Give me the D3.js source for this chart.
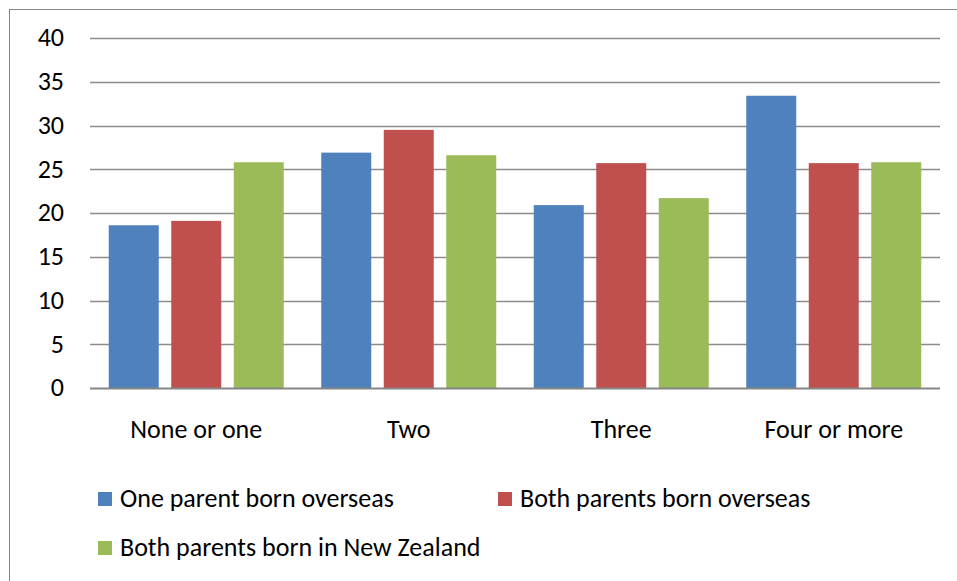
<!DOCTYPE html>
<html>
<head>
<meta charset="utf-8">
<script src="https://cdn.jsdelivr.net/npm/d3@7"></script>
<style>
  body { margin: 0; background: #fff; }
  svg { display: block; font-family: Carlito, Calibri, "Open Sans", sans-serif; }
</style>
</head>
<body>
<svg width="957" height="581"></svg>
<script>
// data
const categories = ['None or one', 'Two', 'Three', 'Four or more'];
const seriesNames = ['One parent born overseas', 'Both parents born overseas', 'Both parents born in New Zealand'];
const oneParent = [18.6, 26.9, 20.9, 33.4];
const bothOverseas = [19.1, 29.5, 25.7, 25.7];
const bothNZ = [25.8, 26.6, 21.7, 25.8];
const colors = ['#4f81bd', '#c0504d', '#9bbb59'];
const yTicks = [0, 5, 10, 15, 20, 25, 30, 35, 40];

const seriesValues = [oneParent, bothOverseas, bothNZ];

const svg = d3.select('svg');

// outer chart border (only top/left visible)
svg.append('rect')
  .attr('x', 9.5).attr('y', 9.5)
  .attr('width', 1000).attr('height', 1000)
  .attr('fill', 'none')
  .attr('stroke', '#868686');

const plotL = 90, plotR = 940, plotT = 38, plotB = 388;

const y = d3.scaleLinear().domain([0, 40]).range([plotB, plotT]);
const x0 = d3.scaleBand().domain(categories).range([plotL, plotR]);
const x1 = d3.scaleBand().domain(d3.range(3))
  .range([0, x0.bandwidth()])
  .paddingInner(0.2)
  .paddingOuter(0.3);

// gridlines
svg.append('g')
  .selectAll('line')
  .data(yTicks.filter((d) => d > 0))
  .enter()
  .append('line')
  .attr('x1', plotL).attr('x2', plotR)
  .attr('y1', (d) => Math.round(y(d)) + 0.5)
  .attr('y2', (d) => Math.round(y(d)) + 0.5)
  .attr('stroke', '#8c8c8c')
  .attr('stroke-width', 1.5);

// y labels
svg.append('g')
  .selectAll('text')
  .data(yTicks)
  .enter()
  .append('text')
  .attr('x', 64)
  .attr('y', (d) => y(d))
  .attr('dy', '0.32em')
  .attr('text-anchor', 'end')
  .attr('font-size', 26)
  .attr('fill', '#000')
  .text((d) => d);

// bars
const groups = svg.append('g')
  .selectAll('g')
  .data(categories)
  .enter()
  .append('g')
  .attr('transform', (d) => `translate(${x0(d)},0)`);

groups.selectAll('rect')
  .data((d, i) => seriesValues.map((vals, s) => ({ s: s, v: vals[i] })))
  .enter()
  .append('rect')
  .attr('x', (d) => x1(d.s))
  .attr('width', x1.bandwidth())
  .attr('y', (d) => y(d.v))
  .attr('height', (d) => plotB - y(d.v))
  .attr('fill', (d) => colors[d.s]);

// x axis line
svg.append('line')
  .attr('x1', plotL).attr('x2', plotR)
  .attr('y1', plotB + 0.5).attr('y2', plotB + 0.5)
  .attr('stroke', '#868686')
  .attr('stroke-width', 2);

// category labels
svg.append('g')
  .selectAll('text')
  .data(categories)
  .enter()
  .append('text')
  .attr('x', (d) => x0(d) + x0.bandwidth() / 2)
  .attr('y', 438)
  .attr('text-anchor', 'middle')
  .attr('font-size', 26)
  .text((d) => d);

// legend
const legendPos = [[98, 492], [498, 492], [98, 541]];
const legend = svg.append('g')
  .selectAll('g')
  .data(seriesNames)
  .enter()
  .append('g')
  .attr('transform', (d, i) => `translate(${legendPos[i][0]},${legendPos[i][1]})`);

legend.append('rect')
  .attr('width', 14).attr('height', 14)
  .attr('fill', (d, i) => colors[i]);

legend.append('text')
  .attr('x', 22)
  .attr('y', 15)
  .attr('font-size', 26)
  .text((d) => d);
</script>
</body>
</html>
